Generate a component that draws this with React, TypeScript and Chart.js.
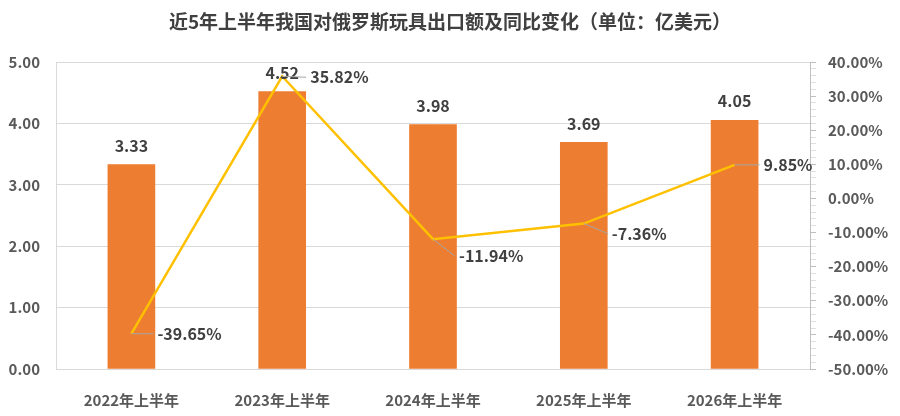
import { useEffect, useRef } from 'react';
import { Chart, registerables } from 'chart.js';

Chart.register(...registerables);

const title = '近5年上半年我国对俄罗斯玩具出口额及同比变化（单位：亿美元）';
const categories = ['2022年上半年', '2023年上半年', '2024年上半年', '2025年上半年', '2026年上半年'];
const exportValues = [3.33, 4.52, 3.98, 3.69, 4.05];
const yoyChange = [-39.65, 35.82, -11.94, -7.36, 9.85];
const leftAxisRange = [0, 5];
const rightAxisRange = [-50, 40];

// where each percentage label sits relative to its point (dx, dy)
const pctLabelOffsets = [
  [26, 0],
  [28, 1],
  [26, 17],
  [28, 10],
  [29, 0],
];

const FONT = '"Noto Sans CJK SC", "Noto Sans", sans-serif';
const TEXT = '#404040';
const TICK_TEXT = '#595959';
const GRID = '#d9d9d9';

const labelsPlugin = {
  id: 'valueLabels',
  afterDatasetsDraw(chart: Chart) {
    const { ctx } = chart;
    ctx.save();
    ctx.font = `bold 16px ${FONT}`;
    ctx.fillStyle = TEXT;

    // bar values above each bar
    const barMeta = chart.getDatasetMeta(1);
    barMeta.data.forEach((bar: any, i: number) => {
      ctx.textAlign = 'center';
      ctx.textBaseline = 'middle';
      ctx.fillText(exportValues[i].toFixed(2), bar.x, bar.y - 19);
    });

    // yoy labels with leader lines
    const lineMeta = chart.getDatasetMeta(0);
    lineMeta.data.forEach((pt: any, i: number) => {
      const [dx, dy] = pctLabelOffsets[i];
      ctx.strokeStyle = '#a6a6a6';
      ctx.lineWidth = 1;
      ctx.beginPath();
      ctx.moveTo(pt.x, pt.y);
      ctx.lineTo(pt.x + dx - 4, pt.y + dy);
      ctx.stroke();
      ctx.textAlign = 'left';
      ctx.textBaseline = 'middle';
      ctx.fillText(yoyChange[i].toFixed(2) + '%', pt.x + dx, pt.y + dy);
    });

    // title
    ctx.font = `bold 19px ${FONT}`;
    ctx.textAlign = 'center';
    ctx.fillText(title, 450, 22);
    ctx.restore();
  },
};

export default function App() {
  const canvasRef = useRef<HTMLCanvasElement>(null);
  const chartRef = useRef<Chart | null>(null);

  useEffect(() => {
    if (!canvasRef.current) return;
    const ctx = canvasRef.current.getContext('2d');
    if (!ctx) return;

    if (chartRef.current) {
      chartRef.current.destroy();
    }

    chartRef.current = new Chart(ctx, {
      type: 'bar',
      data: {
        labels: categories,
        datasets: [
          {
            type: 'line',
            label: '同比变化',
            data: yoyChange,
            yAxisID: 'y1',
            borderColor: '#FFC000',
            borderWidth: 2.5,
            pointRadius: 0,
            tension: 0,
            order: 0,
          } as any,
          {
            type: 'bar',
            label: '出口额',
            data: exportValues,
            yAxisID: 'y',
            backgroundColor: '#ED7D31',
            barThickness: 47,
            order: 1,
          },
        ],
      },
      options: {
        responsive: true,
        maintainAspectRatio: false,
        animation: false,
        layout: { padding: { top: 62, left: 0, right: 0, bottom: 0 } },
        plugins: {
          legend: { display: false },
          title: { display: false },
          tooltip: { enabled: false },
        },
        scales: {
          x: {
            grid: { display: false },
            border: { display: false },
            ticks: {
              color: TICK_TEXT,
              font: { size: 15, family: FONT, weight: 'bold' },
              padding: 14,
            },
            afterFit: (scale: any) => {
              scale.height = 47;
            },
          },
          y: {
            position: 'left',
            min: leftAxisRange[0],
            max: leftAxisRange[1],
            grid: { color: GRID, drawTicks: false },
            border: { display: true, color: GRID },
            ticks: {
              stepSize: 1,
              color: TICK_TEXT,
              font: { size: 15, family: FONT, weight: 'bold' },
              padding: 16,
              callback: (v) => Number(v).toFixed(2),
            },
            afterFit: (scale: any) => {
              scale.width = 56;
            },
          },
          y1: {
            position: 'right',
            min: rightAxisRange[0],
            max: rightAxisRange[1],
            grid: {
              drawOnChartArea: false,
              drawTicks: true,
              tickLength: 6,
              tickColor: (c: any) =>
                c.tick && Math.round(c.tick.value) % 10 === 0 ? '#bfbfbf' : '#e0e0e0',
            },
            border: { display: true, color: '#bfbfbf' },
            ticks: {
              stepSize: 2,
              autoSkip: false,
              color: TICK_TEXT,
              font: { size: 15, family: FONT, weight: 'bold' },
              padding: 12,
              callback: (v) => {
                const n = Math.round(Number(v));
                return n % 10 === 0 ? n.toFixed(2) + '%' : '';
              },
            },
            afterFit: (scale: any) => {
              scale.width = 90;
            },
          },
        },
      },
      plugins: [labelsPlugin],
    });

    return () => {
      if (chartRef.current) {
        chartRef.current.destroy();
        chartRef.current = null;
      }
    };
  }, []);

  return (
    <div style={{ position: 'absolute', left: 0, top: 0, width: 900, height: 416, background: '#fff' }}>
      <canvas ref={canvasRef} />
    </div>
  );
}
